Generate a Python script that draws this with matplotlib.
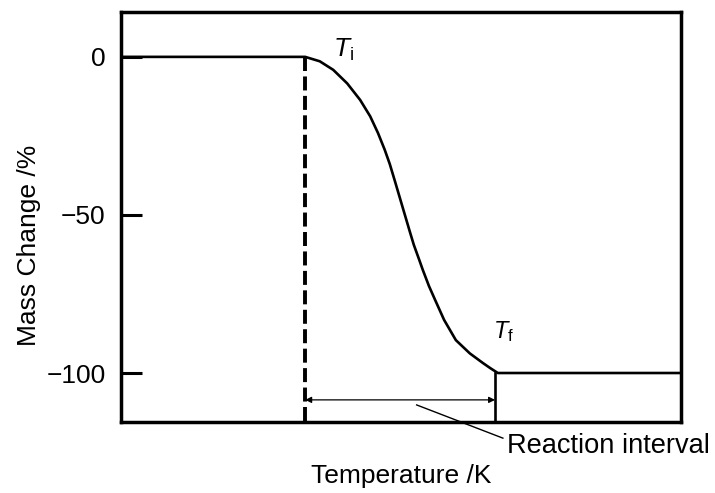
import numpy as np
import matplotlib.pyplot as plt

plt.rcParams['font.family'] = ['Liberation Sans', 'DejaVu Sans']
plt.rcParams['mathtext.fontset'] = 'custom'
plt.rcParams['mathtext.rm'] = 'Liberation Sans'
plt.rcParams['mathtext.it'] = 'Liberation Sans:italic'

# TG curve (temperature in arbitrary 0-100 units, mass change in %)
temp = [0.0, 32.9, 35.5, 37.9, 40.4, 42.7, 44.5, 45.9, 47.1, 48.0, 48.9,
        49.8, 50.7, 51.6, 52.3, 53.2, 53.9, 55.0, 56.1, 57.7, 59.8, 62.3,
        64.6, 65.9, 67.3, 100.0]
mass = [0.0, 0.0, -1.4, -4.1, -8.4, -13.6, -18.8, -24.1, -29.4, -33.9, -39.2,
        -44.6, -50.0, -55.4, -59.5, -63.9, -67.4, -72.5, -76.9, -83.2, -89.6,
        -93.8, -96.8, -98.4, -100.0, -100.0]
t_i = 32.9
t_f = 66.8
y_ticks = [0, -50, -100]
y_ticklabels = ['0', '\u221250', '\u2212100']

fig = plt.figure(figsize=(7.15, 4.93), dpi=100)
ax = fig.add_axes([0.1692, 0.144, 0.7832, 0.8317])
ax.set_xlim(0, 100)
ax.set_ylim(-115.5, 14.2)

ax.plot(temp, mass, color='black', lw=1.9, solid_capstyle='butt',
        solid_joinstyle='round')
ax.plot([t_i, t_i], [0, -115.5], color='black', lw=2.8, dashes=(3.6, 1.4))
ax.plot([t_f, t_f], [-100, -115.5], color='black', lw=1.9)

# reaction interval arrow and its leader
ax.annotate('', xy=(t_f, -108.5), xytext=(t_i, -108.5),
            arrowprops=dict(arrowstyle='<|-|>', mutation_scale=9, lw=0.9,
                            color='black', shrinkA=0, shrinkB=0))
ax.plot([52.8, 68.2], [-110.1, -120.6], color='black', lw=1.0, clip_on=False)
ax.text(68.9, -125.3, 'Reaction interval', fontsize=19.6, va='baseline',
        ha='left', clip_on=False)

ax.text(37.9, 0, r'$T_{\mathrm{i}}$', fontsize=19, va='baseline', ha='left')
ax.text(66.4, -88.9, r'$T_{\mathrm{f}}$', fontsize=17, va='baseline', ha='left')

ax.set_yticks(y_ticks)
ax.set_yticklabels(y_ticklabels)
ax.set_xticks([])
ax.tick_params(axis='y', direction='in', length=15, width=2.2, pad=11,
               labelsize=19)
for s in ax.spines.values():
    s.set_linewidth(2.5)

fig.text(29 / 715, 1 - 245 / 493, 'Mass Change /%', fontsize=19,
         rotation=90, ha='center', va='center')
ax.set_xlabel('Temperature /K', fontsize=19, labelpad=30)

fig.savefig('out.png', dpi=100)
